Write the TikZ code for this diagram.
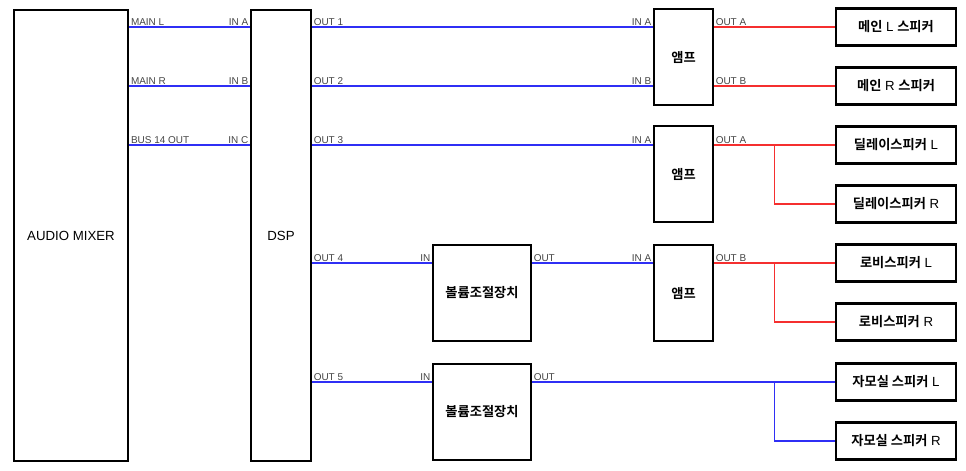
\documentclass[tikz,border=0pt]{standalone}
\usepackage{fontspec}
\setmainfont{Liberation Sans}
\newfontfamily\kr{Noto Sans CJK KR Bold}
\usetikzlibrary{calc}
\definecolor{sigblue}{HTML}{2F2FF5}
\definecolor{spkred}{HTML}{F52F2F}
\definecolor{lbl}{HTML}{454545}

\begin{document}
\begin{tikzpicture}[x=1bp, y=-1bp,
  unit/.style 2 args={rectangle, draw=black, line width=2.4pt, fill=white, minimum width=#1, minimum height=#2, inner sep=0pt, align=center, font=\fontsize{13.3}{15}\selectfont},
  spk/.style={unit={120.5bp}{37bp}},
  sig/.style={draw=sigblue, line width=1.25bp},
  pwr/.style={draw=spkred, line width=1.25bp},
  portout/.style={pos=0, anchor=south west, inner sep=1.2pt, text=lbl, font=\fontsize{10}{10}\selectfont},
  portin/.style={pos=1, anchor=south east, inner sep=1.2pt, text=lbl, font=\fontsize{10}{10}\selectfont}
]
  \useasboundingbox (0,0) rectangle (966,471);
  % Sources
  \node[unit={114bp}{451bp}] (mixer) at (71,235.5) {AUDIO MIXER};
  \node[unit={59.5bp}{451bp}] (dsp) at (281,235.5) {DSP};
  % Amps and volume controls
  \node[unit={58.5bp}{95.5bp}] (amp1) at (683.5,57) {\kr 앰프};
  \node[unit={58.5bp}{95.5bp}] (amp2) at (683.5,174) {\kr 앰프};
  \node[unit={58.5bp}{95.5bp}] (amp3) at (683.5,293) {\kr 앰프};
  \node[unit={97.5bp}{95.5bp}] (vol1) at (482,293) {\kr 볼륨조절장치};
  \node[unit={97.5bp}{95.5bp}] (vol2) at (482,412) {\kr 볼륨조절장치};
  % Speakers
  \node[spk] (mainL) at (896,27) {{\kr 메인} L {\kr 스피커}};
  \node[spk] (mainR) at (896,86) {{\kr 메인} R {\kr 스피커}};
  \node[spk] (dlyL) at (896,145) {{\kr 딜레이스피커} L};
  \node[spk] (dlyR) at (896,204) {{\kr 딜레이스피커} R};
  \node[spk] (lobL) at (896,263) {{\kr 로비스피커} L};
  \node[spk] (lobR) at (896,322) {{\kr 로비스피커} R};
  \node[spk] (momL) at (896,382) {{\kr 자모실 스피커} L};
  \node[spk] (momR) at (896,441) {{\kr 자모실 스피커} R};
  % Mixer to DSP
  \draw[sig] (mixer.east |- mainL) -- node[portout]{MAIN L} node[portin]{IN A} (dsp.west |- mainL);
  \draw[sig] (mixer.east |- mainR) -- node[portout]{MAIN R} node[portin]{IN B} (dsp.west |- mainR);
  \draw[sig] (mixer.east |- dlyL) -- node[portout]{BUS 14 OUT} node[portin]{IN C} (dsp.west |- dlyL);
  % DSP outputs
  \draw[sig] (dsp.east |- mainL) -- node[portout]{OUT 1} node[portin]{IN A} (amp1.west |- mainL);
  \draw[sig] (dsp.east |- mainR) -- node[portout]{OUT 2} node[portin]{IN B} (amp1.west |- mainR);
  \draw[sig] (dsp.east |- dlyL) -- node[portout]{OUT 3} node[portin]{IN A} (amp2.west |- dlyL);
  \draw[sig] (dsp.east |- lobL) -- node[portout]{OUT 4} node[portin]{IN} (vol1.west |- lobL);
  \draw[sig] (dsp.east |- momL) -- node[portout]{OUT 5} node[portin]{IN} (vol2.west |- momL);
  \draw[sig] (vol1.east |- lobL) -- node[portout]{OUT} node[portin]{IN A} (amp3.west |- lobL);
  % Speaker lines
  \draw[pwr] (amp1.east |- mainL) -- node[portout]{OUT A} (mainL.west);
  \draw[pwr] (amp1.east |- mainR) -- node[portout]{OUT B} (mainR.west);
  \draw[pwr] (amp2.east |- dlyL) -- node[portout]{OUT A} (dlyL.west);
  \draw[pwr] (dlyR.west) -| ($(amp2.east |- dlyL)!.5!(dlyL.west)$);
  \draw[pwr] (amp3.east |- lobL) -- node[portout]{OUT B} (lobL.west);
  \draw[pwr] (lobR.west) -| ($(amp3.east |- lobL)!.5!(lobL.west)$);
  \draw[sig] (vol2.east |- momL) -- node[portout]{OUT} (momL.west);
  \draw[sig] (momR.west) -| ($(amp3.east |- momL)!.5!(momL.west)$);
\end{tikzpicture}
\end{document}
